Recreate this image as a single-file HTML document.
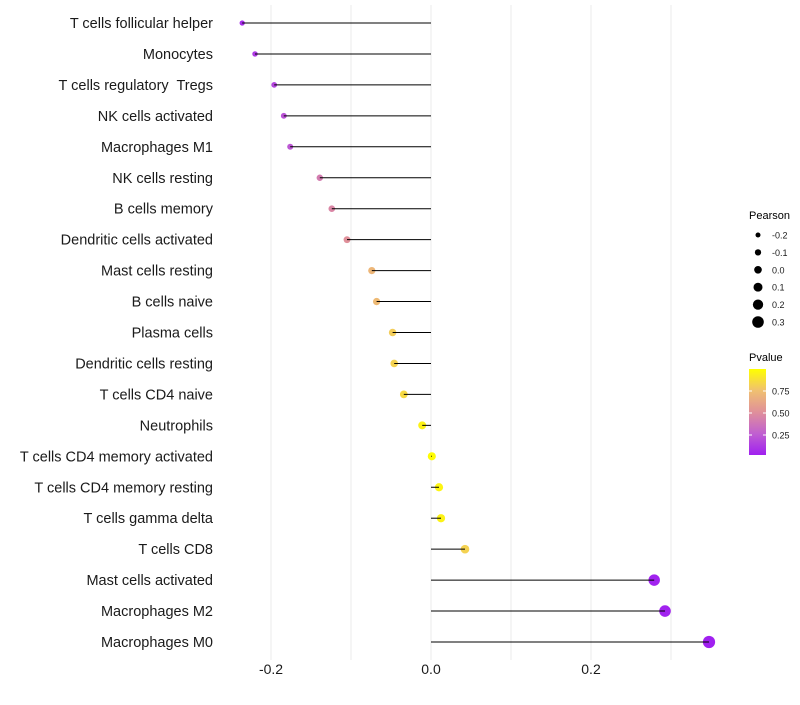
<!DOCTYPE html>
<html><head><meta charset="utf-8">
<style>
body{margin:0;background:#fff;font-family:"Liberation Sans",sans-serif;}
svg text{font-family:"Liberation Sans",sans-serif;white-space:pre;}
</style></head>
<body>
<svg id="chart" width="800" height="700" xmlns="http://www.w3.org/2000/svg">
<defs>
<linearGradient id="pgrad" x1="0" y1="1" x2="0" y2="0">
<stop offset="0" stop-color="#a020f0"/>
<stop offset="0.25" stop-color="#c060d0"/>
<stop offset="0.5" stop-color="#e0909a"/>
<stop offset="0.75" stop-color="#f0c070"/>
<stop offset="1" stop-color="#ffff00"/>
</linearGradient>
</defs>
<g id="grid"></g>
<g id="dots"></g>
<g id="marks"></g>
<g id="ylabels"></g>
<g id="xlabels"></g>
<g id="sizeLegend">
<text x="749" y="219" font-size="11" fill="#000">Pearson</text>
</g>
<g>
<text x="749" y="361" font-size="11" fill="#000">Pvalue</text>
<rect x="749" y="369" width="17" height="86" fill="url(#pgrad)"/>
<g id="cticks"></g>
</g>
</svg>
<script>
const categories=["T cells follicular helper","Monocytes","T cells regulatory  Tregs","NK cells activated","Macrophages M1","NK cells resting","B cells memory","Dendritic cells activated","Mast cells resting","B cells naive","Plasma cells","Dendritic cells resting","T cells CD4 naive","Neutrophils","T cells CD4 memory activated","T cells CD4 memory resting","T cells gamma delta","T cells CD8","Mast cells activated","Macrophages M2","Macrophages M0"];
const pearson=[-0.236,-0.22,-0.196,-0.184,-0.176,-0.139,-0.124,-0.105,-0.074,-0.068,-0.048,-0.046,-0.034,-0.011,0.001,0.01,0.0125,0.0425,0.279,0.2925,0.3475];
const pvalue=[0.05,0.1,0.15,0.2,0.22,0.4,0.45,0.5,0.7,0.72,0.8,0.82,0.85,0.95,0.99,0.96,0.95,0.82,0.01,0.01,0.001];
const xTicks=[-0.2,0,0.2];
const xTickLabels=["-0.2","0.0","0.2"];
const sizeLegendValues=[-0.2,-0.1,0.0,0.1,0.2,0.3];
const sizeLegendLabels=["-0.2","-0.1","0.0","0.1","0.2","0.3"];
const colorTicks=[0.25,0.5,0.75];
const colorTickLabels=["0.25","0.50","0.75"];

const NS="http://www.w3.org/2000/svg";
function mk(t,a,p){const e=document.createElementNS(NS,t);for(const k in a)e.setAttribute(k,a[k]);p.appendChild(e);return e;}
const xS=v=>431+v*800;
const yS=i=>23+i*(619/20);
const rS=v=>Math.max(1.5,4.05+v*6);
const stops=[[0,[160,32,240]],[0.25,[192,96,208]],[0.5,[224,144,154]],[0.75,[240,192,112]],[1,[255,255,0]]];
function col(p){for(let i=0;i<stops.length-1;i++){const[a,ca]=stops[i],[b,cb]=stops[i+1];if(p<=b){const t=(p-a)/(b-a);return "rgb("+ca.map((c,j)=>Math.round(c+(cb[j]-c)*t)).join(",")+")";}}return "rgb(255,255,0)";}
const grid=document.getElementById('grid');
[-0.2,-0.1,0,0.1,0.2,0.3].forEach(v=>{
 const l=mk('line',{x1:xS(v),x2:xS(v),y1:5,y2:660,stroke:'#ebebeb','stroke-width':1},grid);
 
 
});
const marks=document.getElementById('marks'),dots=document.getElementById('dots'),yl=document.getElementById('ylabels');
categories.forEach((c,i)=>{
 const y=yS(i);
 const d=mk('circle',{cx:xS(pearson[i]),cy:y,r:rS(pearson[i]),fill:col(pvalue[i])},dots);
 
 
 const l=mk('line',{x1:xS(0),x2:xS(pearson[i]),y1:y,y2:y,stroke:'#000','stroke-width':1},marks);
 
 
 const t=mk('text',{x:213,y:y+5,'text-anchor':'end','font-size':14.5,fill:'#1a1a1a'},yl);
 t.textContent=c;
 
 
});
const xl=document.getElementById('xlabels');
xTicks.forEach((v,i)=>{
 const t=mk('text',{x:xS(v),y:674,'text-anchor':'middle','font-size':14,fill:'#1a1a1a'},xl);
 t.textContent=xTickLabels[i];
 
 
});
const sl=document.getElementById('sizeLegend');
sizeLegendValues.forEach((v,i)=>{
 const y=235+i*17.4;
 const c=mk('circle',{cx:758,cy:y,r:2.5+(v+0.2)*6.6,fill:'#000'},sl);
 
 
 const t=mk('text',{x:772,y:y+3.5,'font-size':9,fill:'#1a1a1a'},sl);
 t.textContent=sizeLegendLabels[i];
 
 
});
const ct=document.getElementById('cticks');
colorTicks.forEach((v,i)=>{
 const y=457-v*88;
 mk('line',{x1:749,x2:752,y1:y,y2:y,stroke:'#fff'},ct);
 mk('line',{x1:763,x2:766,y1:y,y2:y,stroke:'#fff'},ct);
 const t=mk('text',{x:772,y:y+3.5,'font-size':9,fill:'#1a1a1a'},ct);
 t.textContent=colorTickLabels[i];
 
 
});
</script>
</body></html>
